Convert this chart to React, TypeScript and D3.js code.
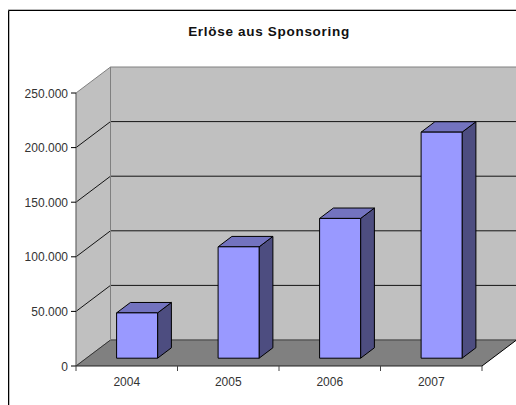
import React from "react";
import * as d3 from "d3";

const years = ["2004", "2005", "2006", "2007"];
const values = [41500, 102000, 128000, 207000];
const yTicks = [0, 50000, 100000, 150000, 200000, 250000];
const tickLabels = ["0", "50.000", "100.000", "150.000", "200.000", "250.000"];
const title = "Erlöse aus Sponsoring";

const x = d3.scaleBand<string>().domain(years).range([76, 482]);
const y = d3.scaleLinear().domain([0, 250000]).range([366, 93]);
const DX = 34.5;
const DY = -26;
const front = "#9999FF";
const side = "#4D4D80";
const top = "#7373BF";
const font = "'Liberation Sans', Arial, sans-serif";
const pts = (p: [number, number][]) => p.map((q) => q.join(",")).join(" ");
const X0 = x.range()[0];
const X1 = x.range()[1];

export default function App() {
  return (
    <svg width={516} height={405} style={{ position: "absolute", left: 0, top: 0 }}>
      <rect x={0} y={0} width={516} height={405} fill="#fff" />
      <path d="M8 9.5H516" fill="none" stroke="#bbb" strokeWidth={1} />
      <path d="M9.5 11V405" fill="none" stroke="#bbb" strokeWidth={1} />
      <path d="M8.5 405V10.5H516" fill="none" stroke="#000" strokeWidth={1} />
      <text x={269} y={36} textAnchor="middle" fontFamily={font} fontWeight="bold" fontSize={13.5} letterSpacing={0.7} fill="#111">{title}</text>
      {/* walls */}
      <polygon points={pts([[X0, y(0)], [X0 + DX, y(0) + DY], [X0 + DX, y(250000) + DY], [X0, y(250000)]])} fill="#C0C0C0" />
      <rect x={X0 + DX} y={y(250000) + DY} width={516 - X0 - DX} height={y(0) - y(250000)} fill="#C0C0C0" />
      <polygon points={pts([[X0, y(0)], [X0 + DX, y(0) + DY], [516, y(0) + DY], [X1 + DX, y(0) + DY], [X1, y(0)]])} fill="#808080" />
      {/* gridlines */}
      {yTicks.map((t, i) => (
        <path key={t} d={`M${X0} ${y(t)}L${X0 + DX} ${y(t) + DY}H516`} fill="none" stroke={i === 0 || i === yTicks.length - 1 ? "#808080" : "#000"} strokeWidth={1} opacity={i === 0 || i === yTicks.length - 1 ? 1 : 0.9} />
      ))}
      <path d={`M${X0} ${y(0)}L${X0 + DX} ${y(0) + DY}`} stroke="#333" fill="none" />
      <path d={`M${X0 + DX} ${y(0) + DY}H516`} stroke="#444" fill="none" strokeWidth={1.2} />
      <path d={`M${X1} ${y(0)}L${X1 + DX} ${y(0) + DY}`} stroke="#000" fill="none" />
      <path d={`M${X0 + DX} ${y(250000) + DY}V${y(0) + DY}`} stroke="#808080" fill="none" />
      <path d={`M${X0} ${y(250000)}V${y(0)}`} stroke="#666" fill="none" strokeWidth={1.2} />
      <path d={`M${X0} ${y(0)}H${X1}`} stroke="#222" fill="none" />
      {/* ticks */}
      {yTicks.map((t, i) => (
        <g key={t}>
          <path d={`M${X0 - 5} ${y(t)}H${X0}`} stroke="#000" />
          <text x={X0 - 8} y={y(t) + 4.5} textAnchor="end" fontFamily={font} fontSize={12} fill="#333">{tickLabels[i]}</text>
        </g>
      ))}
      {[...years.map((c) => x(c)!), X1].map((px) => (
        <path key={px} d={`M${px} ${y(0)}v5`} stroke="#444" />
      ))}
      {years.map((c) => (
        <text key={c} x={x(c)! + x.bandwidth() / 2} y={386} textAnchor="middle" fontFamily={font} fontSize={12} fill="#333">{c}</text>
      ))}
      {/* bars */}
      {years.map((c, i) => {
        const w = 41;
        const d = 0.4;
        const fx = 0.3;
        const l = x(c)! + x.bandwidth() / 2 - w / 2 + DX * fx;
        const r = l + w;
        const b = y(0) + DY * fx;
        const t = y(values[i]) + DY * fx;
        const ddx = DX * d;
        const ddy = DY * d;
        return (
          <g key={c} stroke="#000" strokeWidth={1} strokeLinejoin="round">
            <polygon points={pts([[r, b], [r + ddx, b + ddy], [r + ddx, t + ddy], [r, t]])} fill={side} />
            <polygon points={pts([[l, t], [r, t], [r + ddx, t + ddy], [l + ddx, t + ddy]])} fill={top} />
            <rect x={l} y={t} width={w} height={b - t} fill={front} />
          </g>
        );
      })}
    </svg>
  );
}
